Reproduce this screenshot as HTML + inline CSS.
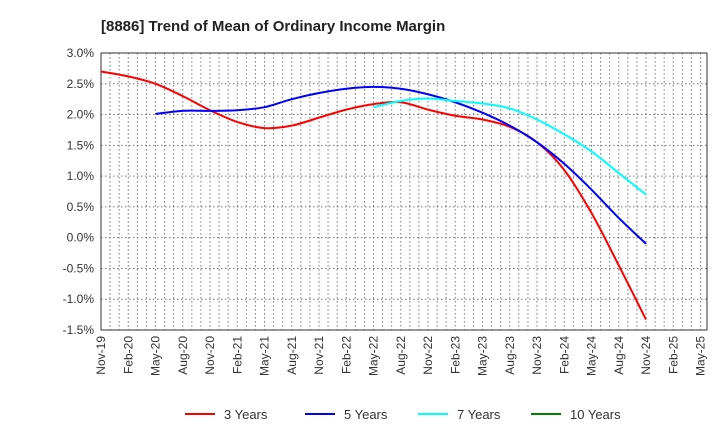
<!DOCTYPE html>
<html><head><meta charset="utf-8"><style>
body{margin:0;background:#fff;font-family:"Liberation Sans",sans-serif;}
svg text{font-family:"Liberation Sans",sans-serif;}
</style></head><body>
<svg id="chart" width="720" height="440">
<text x="101" y="31" font-size="15" font-weight="bold" fill="#222">[8886]  Trend of Mean of Ordinary Income Margin</text>
<g id="grid"></g><g id="axes"></g><g id="series"></g><g id="legend"></g>
</svg>
<script>
const xLabels=["Nov-19","Feb-20","May-20","Aug-20","Nov-20","Feb-21","May-21","Aug-21","Nov-21","Feb-22","May-22","Aug-22","Nov-22","Feb-23","May-23","Aug-23","Nov-23","Feb-24","May-24","Aug-24","Nov-24","Feb-25","May-25"];
const yTicks=[3.0,2.5,2.0,1.5,1.0,0.5,0.0,-0.5,-1.0,-1.5];
const seriesNames=["3 Years","5 Years","7 Years","10 Years"];
const seriesColors=["#ff0000","#0000ff","#00ffff","#008000"];
const y3=[2.70,2.62,2.50,2.30,2.07,1.88,1.78,1.82,1.95,2.08,2.17,2.20,2.08,1.98,1.92,1.80,1.55,1.10,0.40,-0.45,-1.33];
const y5=[null,null,2.01,2.06,2.06,2.07,2.12,2.25,2.35,2.42,2.45,2.42,2.33,2.20,2.03,1.82,1.55,1.20,0.78,0.32,-0.10];
const y7=[null,null,null,null,null,null,null,null,null,null,2.12,2.22,2.26,2.22,2.18,2.10,1.92,1.68,1.40,1.05,0.70];
const y10=[];
const allSeries=[y3,y5,y7,y10];
const L=101,R=707,T=53,B=330,yMax=3.0,yMin=-1.5;
const QW=27.25;
const xs=i=>L+QW*i;
const ys=v=>T+(yMax-v)/(yMax-yMin)*(B-T);
const NS="http://www.w3.org/2000/svg";
function mk(tag,attrs,parent){const e=document.createElementNS(NS,tag);for(const k in attrs)e.setAttribute(k,attrs[k]);parent.appendChild(e);return e;}
const grid=document.getElementById('grid'),axes=document.getElementById('axes'),ser=document.getElementById('series'),leg=document.getElementById('legend');
for(let m=1;L+m*QW/3<R-1;m++){const x=L+m*QW/3;
 const g=mk('line',{x1:x,x2:x,y1:T,y2:B,stroke:'#777','stroke-dasharray':'1.5,2.5','stroke-width':1},grid);
 
 }
yTicks.forEach(v=>{const y=ys(v);
 const g=mk('line',{x1:L,x2:R,y1:y,y2:y,stroke:'#777','stroke-dasharray':'1.5,2.5','stroke-width':1},grid);
 
 
 const t=mk('text',{x:L-7,y:y+4,'text-anchor':'end','font-size':12,fill:'#333'},axes);t.textContent=v.toFixed(1)+'%';
 
 });
const fr=mk('rect',{x:L,y:T,width:R-L,height:B-T,fill:'none',stroke:'#333','stroke-width':1},axes);


xLabels.forEach((s,i)=>{const x=xs(i);
 const t=mk('text',{x:x+4,y:B+6,'text-anchor':'end','font-size':12,fill:'#333',transform:`rotate(-90 ${x+4} ${B+6})`},axes);t.textContent=s;
 
 });
function pathFor(arr){const p=[];arr.forEach((v,i)=>{if(v!==null&&v!==undefined)p.push([xs(i),ys(v)]);});
 if(p.length<2)return '';let d=`M${p[0][0]},${p[0][1]}`;
 for(let i=0;i<p.length-1;i++){const p0=p[i-1]||p[i],p1=p[i],p2=p[i+1],p3=p[i+2]||p2;
  const c1=[p1[0]+(p2[0]-p0[0])/6,p1[1]+(p2[1]-p0[1])/6],c2=[p2[0]-(p3[0]-p1[0])/6,p2[1]-(p3[1]-p1[1])/6];
  d+=` C${c1[0]},${c1[1]} ${c2[0]},${c2[1]} ${p2[0]},${p2[1]}`;}return d;}
allSeries.forEach((arr,k)=>{const d=pathFor(arr);if(!d)return;
 const p=mk('path',{d:d,fill:'none',stroke:seriesColors[k],'stroke-width':2},ser);
 
 });
const lx=[185,305,418,531];
seriesNames.forEach((n,k)=>{
 const l=mk('line',{x1:lx[k],x2:lx[k]+30,y1:414,y2:414,stroke:seriesColors[k],'stroke-width':2},leg);
 
 
 const t=mk('text',{x:lx[k]+39,y:419,'font-size':13,fill:'#333'},leg);t.textContent=n;
 
 });
</script>
</body></html>
